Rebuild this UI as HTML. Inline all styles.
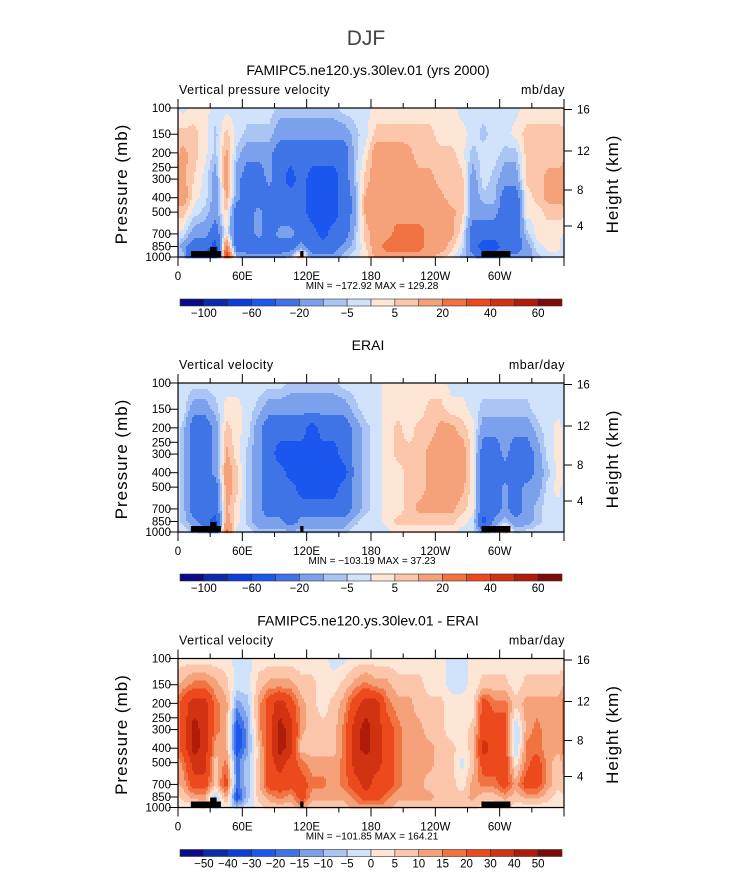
<!DOCTYPE html>
<html><head><meta charset="utf-8"><style>
html,body{margin:0;padding:0;background:#fff;}
svg text{font-family:"Liberation Sans",sans-serif;fill:#000;}
</style></head><body>
<svg id="fig" xmlns="http://www.w3.org/2000/svg" width="733" height="888" viewBox="0 0 733 888">
<text x="366" y="45" font-size="21" text-anchor="middle" fill="#444" style="fill:#444">DJF</text>
</svg>
<script>
// ---------- data ----------
const pressureLevels = [100,150,200,300,400,500,700,850,1000];
const lonCenters = [5,15,25,35,45,55,65,75,85,95,105,115,125,135,145,155,165,175,185,195,205,215,225,235,245,255,265,275,285,295,305,315,325,335,345,355];
const pTicks = [100,150,200,250,300,400,500,700,850,1000];
const hTicks = [16,12,8,4];
const hTickY = [109.5,151,190,226];
const lonTicks = [0,60,120,180,240,300];
const lonTickLabels = ["0","60E","120E","180","120W","60W"];
const levelsA = [-100,-80,-60,-40,-20,-10,-5,0,5,10,20,30,40,50,60];
const levelsB = [-50,-40,-30,-20,-15,-10,-5,0,5,10,15,20,30,40,50];
const labelsA = ["-100","","-60","","-20","","-5","","5","","20","","40","","60"];
const labelsB = ["-50","-40","-30","-20","-15","-10","-5","0","5","10","15","20","30","40","50"];
const colors = ["#0b0b85","#0a2aad","#0c3dd6","#1b57ee","#3f74e6","#7ba0ec","#aac5f3","#d0e3fa","#fde6d6","#fbc6aa","#f5a27b","#f27342","#ec4a1c","#d13211","#ad1d0a","#7f0a0a"];
const landRanges = [[12,40,1],[30,36,2],[114,117,1],[283,310,1]];
// column profiles (top 100mb -> bottom 1000mb), mb/day
const omegaModel = [
[-2,7,12,12,15,7,-2,-15,-7],[2,7,7,5,2,-2,-15,-30,-50],[2,2,2,-2,-2,-7,-15,-30,-50],[-2,-7,-7,-15,-15,-15,-30,-50,-70],
[-2,7,12,15,12,7,2,25,45],[-2,-2,-7,-15,-15,-30,-30,-30,-7],[-2,-7,-15,-30,-30,-30,-30,-30,-15],[-2,-7,-15,-30,-30,-15,-15,-30,-15],
[-2,-7,-15,-15,-30,-30,-30,-30,-15],[-7,-15,-30,-30,-30,-30,-15,-30,-15],[-7,-15,-30,-50,-30,-30,-15,-30,-7],[-7,-15,-30,-30,-30,-30,-30,-15,15],
[-7,-15,-30,-50,-50,-50,-30,-30,-15],[-7,-15,-30,-50,-50,-50,-50,-30,-15],[-7,-15,-30,-50,-50,-50,-30,-30,-15],[-2,-15,-30,-30,-30,-30,-30,-15,-7],
[-2,-7,-7,-7,-15,-15,-7,-7,-2],[-2,-2,2,7,12,12,7,5,2],[2,7,15,15,15,15,15,15,12],[2,7,15,15,15,15,15,25,15],
[2,7,15,15,15,15,25,25,15],[2,7,12,15,15,15,25,25,15],[2,7,7,12,15,15,25,25,15],[2,7,7,12,15,15,15,15,12],
[2,2,7,7,12,15,15,15,7],[2,2,7,7,7,12,12,7,2],[-2,2,2,7,7,7,2,-2,-7],[-2,-2,-7,-15,-15,-15,-30,-30,-15],
[-2,-7,-2,-2,-7,-15,-30,-50,-30],[-2,-2,-2,-7,-7,-15,-30,-50,-30],[-2,-2,-7,-15,-30,-30,-30,-30,-15],[-2,2,-7,-15,-30,-30,-30,-30,-15],
[2,7,7,7,2,2,-7,-15,-15],[2,7,7,7,7,2,2,-2,-7],[2,7,7,12,12,7,2,2,-2],[2,7,7,12,12,7,2,2,-2]];
const omegaObs = [
[-2,-2,-7,-7,-7,-7,-7,-7,-2],[-2,-15,-30,-30,-30,-30,-30,-15,-7],[-2,-15,-30,-30,-30,-30,-30,-30,-15],[-2,-7,-15,-15,-15,-30,-30,-50,-30],
[-2,2,7,12,15,15,12,15,25],[-2,2,2,2,7,7,2,2,-2],[-2,-2,-2,-7,-7,-7,-7,-7,-2],[-2,-7,-15,-15,-15,-15,-15,-15,-7],
[-2,-15,-30,-30,-30,-30,-30,-15,-7],[-2,-15,-30,-50,-30,-30,-30,-15,-7],[-7,-15,-30,-50,-50,-30,-30,-30,-7],[-7,-15,-30,-50,-50,-50,-30,-15,-7],
[-7,-15,-50,-50,-50,-50,-30,-15,-7],[-7,-15,-30,-50,-50,-50,-30,-15,-7],[-7,-15,-30,-50,-50,-50,-30,-15,-7],[-2,-15,-30,-30,-50,-30,-30,-15,-7],
[-2,-7,-15,-15,-15,-15,-15,-7,-2],[-2,-2,-7,-7,-7,-7,-7,-2,-2],[-2,-2,-2,-2,-2,-2,-2,-2,-2],[2,2,2,2,2,2,2,2,-2],
[2,2,7,7,2,2,2,7,2],[2,2,2,7,7,7,7,7,2],[2,2,7,7,7,7,12,7,2],[2,7,7,12,12,12,12,7,2],
[2,7,12,15,15,15,12,7,2],[-2,2,12,15,15,15,12,7,2],[-2,2,7,15,15,12,7,2,-2],[-2,-2,2,2,2,2,2,-2,-2],
[-2,-7,-15,-30,-30,-30,-30,-50,-15],[-2,-7,-15,-30,-30,-30,-30,-15,-7],[-2,-7,-15,-15,-30,-15,-15,-7,15],[-2,-7,-15,-30,-30,-30,-30,-15,-7],
[-2,-7,-15,-30,-30,-15,-15,-15,-2],[-2,-2,-7,-15,-15,-15,-7,-7,-2],[-2,-2,-2,-2,-7,-2,-2,-2,-2],[-2,-2,2,2,2,2,-2,-2,-2]];
const omegaDiff = [
[2,12,25,25,25,17,12,7,2],[2,17,35,45,45,35,25,12,2],[2,17,35,35,35,35,25,12,7],[2,12,17,17,12,7,7,-7,-7],
[2,7,12,12,12,17,25,12,2],[-2,-2,-12,-25,-25,-17,-17,-25,-7],[-2,-2,-7,-12,-12,-7,-7,-7,-2],[2,7,12,12,7,7,7,7,2],
[2,12,25,25,25,25,25,12,7],[2,12,35,45,45,35,25,17,7],[2,12,25,35,35,25,25,12,7],[2,7,12,12,7,17,25,25,12],
[2,7,7,7,7,12,17,12,7],[2,2,2,7,7,12,17,12,7],[-2,2,7,7,7,12,12,12,7],[-2,7,12,17,17,17,17,12,7],
[2,12,25,35,35,35,25,17,12],[2,17,35,45,45,35,35,25,12],[2,12,35,35,35,35,25,25,12],[2,12,17,25,25,25,25,17,12],
[2,7,12,17,17,17,17,12,7],[2,7,12,12,12,12,12,12,7],[2,7,7,12,12,12,12,12,7],[2,2,7,7,12,12,7,12,7],
[2,2,7,7,7,7,7,7,7],[-2,-2,2,2,7,7,7,7,7],[-2,-2,2,2,2,-2,2,7,7],[2,2,2,7,7,7,12,12,7],
[2,7,25,25,35,25,17,7,2],[2,7,17,25,25,25,17,7,2],[2,7,17,25,25,25,25,12,7],[2,2,7,-7,-7,2,12,7,2],
[2,7,12,12,17,17,25,12,2],[2,7,12,17,17,25,25,12,2],[2,7,12,12,12,12,12,7,2],[2,7,12,12,12,7,7,2,2]];

// ---------- drawing ----------
const NS="http://www.w3.org/2000/svg";
const svg=document.getElementById('fig');
const X0=178,X1=564,PH=149;
function el(tag,attrs,parent){const e=document.createElementNS(NS,tag);for(const k in attrs)e.setAttribute(k,attrs[k]);(parent||svg).appendChild(e);return e;}
function xLon(l){return X0+(X1-X0)*l/360;}
function colorIdx(v,levels){let i=0;while(i<levels.length&&v>levels[i])i++;return i;}
const logLev=pressureLevels.map(p=>Math.log10(p));
function sample(data,lon,lp){
  // lon periodic interpolation between column centers
  const n=lonCenters.length,dl=360/n;
  let f=(lon-lonCenters[0])/dl; f=((f%n)+n)%n;
  const i0=Math.floor(f),i1=(i0+1)%n,tx=f-i0;
  let j=0; while(j<logLev.length-2&&lp>logLev[j+1])j++;
  let ty=(lp-logLev[j])/(logLev[j+1]-logLev[j]); ty=Math.max(0,Math.min(1,ty));
  const a=data[i0][j]*(1-ty)+data[i0][j+1]*ty;
  const b=data[i1][j]*(1-ty)+data[i1][j+1]*ty;
  return a*(1-tx)+b*tx;
}

function panel(top,title,leftLabel,unit,data,levels,labels,minmax,key){
  const g=el('g',{});
  
  
  const yP=p=>top+PH*Math.log10(p/100);
  const t=el('text',{x:368,y:top-33,'font-size':14,'text-anchor':'middle'},g);t.textContent=title;
  
  
  const l=el('text',{x:179,y:top-14,'font-size':12.5,'letter-spacing':0.5},g);l.textContent=leftLabel;
  
  
  const u=el('text',{x:565,y:top-14,'font-size':12.5,'letter-spacing':0.5,'text-anchor':'end'},g);u.textContent=unit;
  
  
  // contour field: interpolated and classified, merged in horizontal runs
  const field=el('g',{},g);
  
  
  const step=2;
  for(let y=0;y<PH;y+=step){
    const lp=2+(y+step/2)/PH;
    let runStart=0,runIdx=-1;
    const W=X1-X0;
    for(let x=0;x<=W;x+=step){
      const idx = x<W ? colorIdx(sample(data,(x+step/2)/W*360,lp),levels) : -2;
      if(idx!==runIdx){
        if(runIdx>=0){
          const r=el('rect',{x:X0+runStart,y:top+y,width:Math.min(x,W)-runStart+0.3,height:step+0.3,fill:colors[runIdx]},field);
          
          
        }
        runStart=x;runIdx=idx;
      }
    }
  }
  // land
  landRanges.forEach(([a,b,h])=>{
    const r=el('rect',{x:xLon(a),y:top+PH-4*h-2,width:xLon(b)-xLon(a),height:4*h+2,fill:'#000'},g);
    
    
  });
  const fr=el('rect',{x:X0,y:top,width:X1-X0,height:PH,fill:'none',stroke:'#000','stroke-width':1.2},g);
  
  
  pTicks.forEach(p=>{
    const y=yP(p);
    el('line',{x1:X0-9,x2:X0,y1:y,y2:y,stroke:'#000'},g);
    const tx=el('text',{x:171,y:y+4,'font-size':11.5,'text-anchor':'end'},g);tx.textContent=p;
    
    
  });
  hTicks.forEach((h,i)=>{
    const y=top+hTickY[i]-108;
    el('line',{x1:X1,x2:X1+8,y1:y,y2:y,stroke:'#000'},g);
    const tx=el('text',{x:577,y:y+4,'font-size':11.5},g);tx.textContent=h;
    
    
  });
  for(let lo=0;lo<=360;lo+=30){
    const x=xLon(lo),big=lo%60===0;
    el('line',{x1:x,x2:x,y1:top+PH,y2:top+PH+(big?9:5),stroke:'#000'},g);
    el('line',{x1:x,x2:x,y1:top,y2:top-(big?9:5),stroke:'#000'},g);
  }
  lonTicks.forEach((lo,i)=>{
    const tx=el('text',{x:xLon(lo),y:top+PH+23,'font-size':11.5,'text-anchor':'middle'},g);tx.textContent=lonTickLabels[i];
    
    
  });
  const mm=el('text',{x:372,y:top+PH+32,'font-size':10,'text-anchor':'middle','xml:space':'preserve'},g);mm.textContent=minmax;
  
  
  const ya=el('text',{x:0,y:0,'font-size':17,'text-anchor':'middle','letter-spacing':1,transform:`translate(127,${top+76}) rotate(-90)`},g);ya.textContent='Pressure (mb)';
  
  
  const yb=el('text',{x:0,y:0,'font-size':17,'text-anchor':'middle','letter-spacing':1,transform:`translate(618,${top+76}) rotate(-90)`},g);yb.textContent='Height (km)';
  
  
  const cb=el('g',{},g);
  
  
  const cx0=180,cw=(562-180)/16,cy=top+191;
  colors.forEach((c,i)=>{
    const r=el('rect',{x:cx0+i*cw,y:cy,width:cw,height:7,fill:c,stroke:'#333','stroke-width':0.6},cb);
    
    
  });
  labels.forEach((s,i)=>{
    if(!s)return;
    const tx=el('text',{x:cx0+(i+1)*cw,y:cy+18,'font-size':11.5,'text-anchor':'middle'},cb);tx.textContent=s.replace('-','\u2212');
    
    
  });
}
panel(108,'FAMIPC5.ne120.ys.30lev.01 (yrs 2000)','Vertical pressure velocity','mb/day',omegaModel,levelsA,labelsA,'MIN = \u2212172.92  MAX = 129.28','model');
panel(383,'ERAI','Vertical velocity','mbar/day',omegaObs,levelsA,labelsA,'MIN = \u2212103.19  MAX =  37.23','erai');
panel(658.5,'FAMIPC5.ne120.ys.30lev.01 - ERAI','Vertical velocity','mbar/day',omegaDiff,levelsB,labelsB,'MIN = \u2212101.85  MAX = 164.21','diff');
</script>
</body></html>
